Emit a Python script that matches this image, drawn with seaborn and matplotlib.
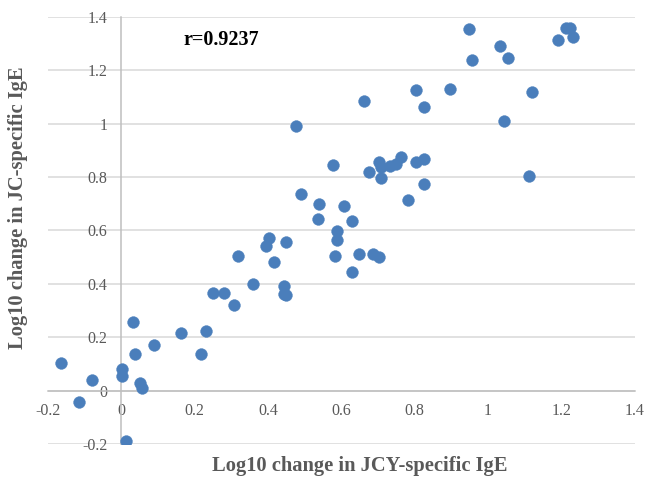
import numpy as np
import pandas as pd
import matplotlib
matplotlib.use("Agg")
import matplotlib.pyplot as plt
import seaborn as sns

# Log10 change values
jcy_ige = [
    -0.165, -0.116, -0.081, 0.002, 0.002, 0.014, 0.033, 0.038, 0.052, 0.056,
    0.089, 0.162, 0.217, 0.232, 0.250, 0.281, 0.306, 0.317, 0.359, 0.394,
    0.403, 0.417, 0.443, 0.444, 0.450, 0.450, 0.475, 0.489, 0.536, 0.539,
    0.577, 0.582, 0.587, 0.587, 0.608, 0.628, 0.630, 0.648, 0.662, 0.676,
    0.685, 0.702, 0.703, 0.708, 0.708, 0.732, 0.750, 0.762, 0.783, 0.803,
    0.803, 0.825, 0.825, 0.825, 0.895, 0.949, 0.956, 1.032, 1.043, 1.055,
    1.111, 1.121, 1.191, 1.213, 1.224, 1.233,
]
jc_ige = [
    0.105, -0.042, 0.039, 0.082, 0.054, -0.188, 0.256, 0.139, 0.029, 0.009,
    0.172, 0.216, 0.139, 0.222, 0.366, 0.366, 0.320, 0.504, 0.400, 0.543,
    0.570, 0.483, 0.393, 0.362, 0.360, 0.557, 0.992, 0.735, 0.644, 0.700,
    0.845, 0.504, 0.599, 0.564, 0.690, 0.443, 0.635, 0.513, 1.086, 0.818,
    0.513, 0.501, 0.856, 0.838, 0.797, 0.840, 0.848, 0.876, 0.714, 1.126,
    0.855, 1.062, 0.868, 0.774, 1.130, 1.353, 1.238, 1.290, 1.012, 1.245,
    0.804, 1.120, 1.313, 1.357, 1.357, 1.323,
]
ticks = [-0.2, 0, 0.2, 0.4, 0.6, 0.8, 1, 1.2, 1.4]
tick_labels = ["-0.2", "0", "0.2", "0.4", "0.6", "0.8", "1", "1.2", "1.4"]
r_label = "r=0.9237"

df = pd.DataFrame({"jcy": jcy_ige, "jc": jc_ige})

sns.set_style("white")
plt.rcParams["font.family"] = ["Liberation Serif", "DejaVu Serif"]

fig = plt.figure(figsize=(6.49, 4.84), dpi=100)
ax = fig.add_axes([0.074, 0.0826, 0.904, 0.8824])

# horizontal grid only, Excel style
for t in ticks:
    ax.axhline(t, color="#d9d9d9", lw=1.1, zorder=0)

sns.scatterplot(data=df, x="jcy", y="jc", ax=ax, s=72, color="#4a7ebb",
                edgecolor="#4a7ebb", linewidth=0.3, zorder=3, legend=False)

ax.set_xlim(-0.2, 1.4)
ax.set_ylim(-0.2, 1.4)

# axes cross at zero
for side in ["top", "right"]:
    ax.spines[side].set_visible(False)
ax.spines["left"].set_position(("data", 0))
ax.spines["bottom"].set_position(("data", 0))
ax.spines["left"].set_color("#bfbfbf")
ax.spines["bottom"].set_color("#bfbfbf")
ax.spines["left"].set_linewidth(1.1)
ax.spines["bottom"].set_linewidth(1.1)

ax.set_xticks(ticks)
ax.set_xticklabels(tick_labels)
ax.set_yticks(ticks)
ax.set_yticklabels(tick_labels)
ax.tick_params(axis="both", length=0, labelsize=11.5, labelcolor="#595959")
ax.tick_params(axis="x", pad=9)
ax.tick_params(axis="y", pad=10)
ax.set_xlabel("")
ax.set_ylabel("")

ax.text(0.17, 1.315, r_label, fontsize=14.5, fontweight="bold", color="black",
        va="center", ha="left")

fig.text(360 / 649, 1 - 466 / 484, "Log10 change in JCY-specific IgE",
         ha="center", va="center", fontsize=14.8, fontweight="bold", color="#595959")
fig.text(18 / 649, 1 - 208 / 484, "Log10 change in JC-specific IgE",
         ha="center", va="center", rotation=90, fontsize=14.8, fontweight="bold",
         color="#595959")

fig.savefig("out.png", dpi=100)
